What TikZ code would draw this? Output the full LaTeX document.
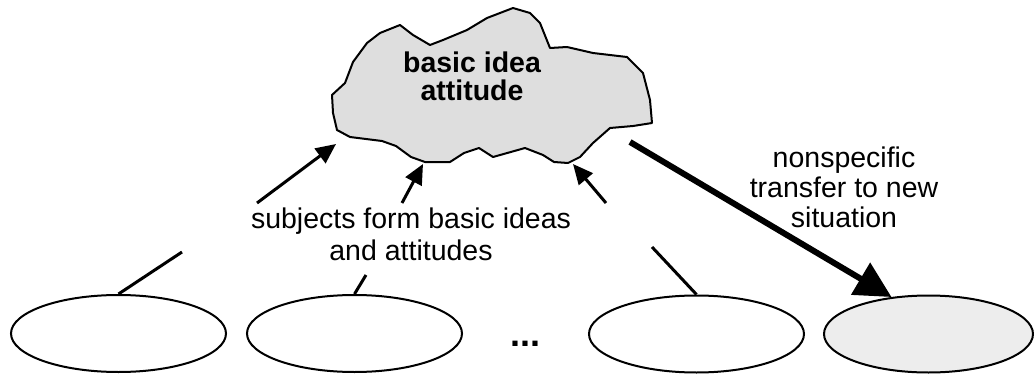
\documentclass[tikz,border=0pt]{standalone}
\usepackage{fontspec}
\setmainfont{Liberation Sans}
\usetikzlibrary{arrows.meta,shapes.geometric}

\begin{document}
\begin{tikzpicture}[x=0.5pt, y=-0.5pt,
    subject/.style={draw, ellipse, line width=1pt, inner sep=0pt,
        minimum width=107.5pt, minimum height=38.5pt},
    link/.style={line width=1.5pt},
    linkhead/.style={link, -{Triangle[length=10pt, width=9pt]}},
    txt/.style={font=\fontsize{14.25}{16}\selectfont, align=center}]
    \useasboundingbox (0,0) rectangle (1034,375);

    % Cloud (basic idea)
    \draw[line width=1pt, fill=black!13, line join=round]
        (332,95) -- (345,83) -- (353,62) -- (367,43) -- (380,33) -- (400,25)
        -- (413,35) -- (430,45) -- (443,40) -- (467,30) -- (487,18) -- (513,8)
        -- (530,13) -- (540,23) -- (550,48) -- (567,47) -- (593,53) -- (627,57)
        -- (643,73) -- (650,100) -- (652,123) -- (633,126) -- (610,128)
        -- (593,143) -- (580,157) -- (568,163) -- (554,162) -- (543,155)
        -- (525,148) -- (493,157) -- (479,148) -- (464,153) -- (450,162)
        -- (425,162) -- (411,157) -- (396,146) -- (382,141) -- (350,137)
        -- (337,130) -- (333,113) -- cycle;
    \node[txt, font=\bfseries\fontsize{14.25}{14}\selectfont] (idea) at (472,76) {basic idea\\attitude};

    % Subjects
    \node[subject] (e1) at (118.5,333.5) {};
    \node[subject] (e2) at (354.5,333.5) {};
    \node[subject] (e3) at (696.5,334) {};
    \node[subject, fill=black!7, minimum width=104.5pt] (e4) at (928.5,334) {};
    \node[font=\bfseries\fontsize{18}{18}\selectfont] (dots) at (525,344) {...};

    % Where the arrows meet the cloud
    \coordinate (c1) at (336,144);
    \coordinate (c2) at (423,164);
    \coordinate (c3) at (573,164);
    \coordinate (c4) at (630,142);

    % Lines are broken round the label
    \coordinate (b1) at (182,252);
    \coordinate (t1) at (257,203);
    \coordinate (b2) at (366,275);
    \coordinate (t2) at (402,203);
    \coordinate (b3) at (652,247);
    \coordinate (t3) at (606,203);

    \draw[link] (e1.north) -- (b1);
    \draw[linkhead] (t1) -- (c1);
    \draw[link] (e2.north) -- (b2);
    \draw[linkhead] (t2) -- (c2);
    \draw[link] (e3.north) -- (b3);
    \draw[linkhead] (t3) -- (c3);

    \node[txt] (form) at (411,234) {subjects form basic ideas\\and attitudes};

    % Transfer
    \draw[line width=3pt, -{Triangle[length=18pt, width=18pt]}] (c4) -- (e4.135);
    \node[txt, font=\fontsize{14.25}{15}\selectfont] (transfer) at (844,187) {nonspecific\\transfer to new\\situation};
\end{tikzpicture}
\end{document}
